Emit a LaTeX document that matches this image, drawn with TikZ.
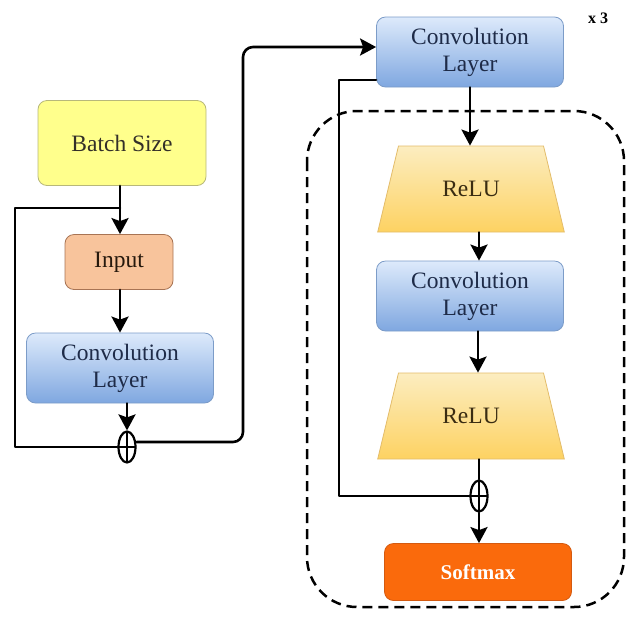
\documentclass[tikz,border=0pt]{standalone}
\usepackage{fontspec}
\setmainfont{Liberation Serif}
\usetikzlibrary{shapes.geometric,arrows.meta,calc}
\definecolor{convTop}{HTML}{DDEAFB}
\definecolor{convBot}{HTML}{7FA7E0}
\definecolor{convLine}{HTML}{7C9CC8}
\definecolor{convText}{HTML}{1E2B48}
\definecolor{reluTop}{HTML}{FCEDC0}
\definecolor{reluBot}{HTML}{FDD262}
\definecolor{reluLine}{HTML}{E3BC6A}
\definecolor{reluText}{HTML}{3A2C12}
\definecolor{batchFill}{HTML}{FFFF8C}
\definecolor{batchLine}{HTML}{B8B87A}
\definecolor{inFill}{HTML}{F8C49C}
\definecolor{inLine}{HTML}{A87454}
\definecolor{smFill}{HTML}{FA6A0C}
\definecolor{smLine}{HTML}{D45A10}
\tikzset{
  txt/.style={font=\fontsize{23.5}{27}\selectfont, align=center},
  box/.style={txt, rectangle, rounded corners=9pt, draw, line width=0.8pt},
  convbox/.style={box, draw=convLine, top color=convTop, bottom color=convBot, text=convText, minimum width=187, minimum height=70},
  relubox/.style={txt, trapezium, trapezium stretches=true, trapezium angle=67.6, draw=reluLine, line width=0.8pt, top color=reluTop, bottom color=reluBot, text=reluText, minimum width=187, minimum height=86},
  plusnode/.style={ellipse, draw, line width=2.2pt, minimum width=17, minimum height=31, inner sep=0pt,
    path picture={\draw[line width=1.8pt] (path picture bounding box.north) -- (path picture bounding box.south)
      (path picture bounding box.west) -- (path picture bounding box.east);}},
  conn/.style={line width=2.6pt, line cap=round, line join=round},
  arr/.style={conn, -{Stealth[length=16pt, width=17pt, inset=3pt]}},
}
\begin{document}
\begin{tikzpicture}[x=1pt,y=-1pt]
\useasboundingbox (0,0) rectangle (629,625);
% left column
\node[box, draw=batchLine, fill=batchFill, text=black!85!olive, minimum width=168, minimum height=85] (batch) at (122,143) {Batch Size};
\node[box, draw=inLine, fill=inFill, text=black!80!brown, minimum width=108, minimum height=55] (input) at (119,262) {Input};
\node[convbox] (convL) at (120,368) {Convolution\\Layer};
\node[plusnode] (pL) at (127,447) {};
% right column
\node[convbox] (convA) at (470,52) {Convolution\\Layer};
\node[relubox] (relu1) at (471,189) {ReLU};
\node[convbox] (convB) at (470,296) {Convolution\\Layer};
\node[relubox] (relu2) at (471,416) {ReLU};
\node[plusnode] (pR) at (479,496) {};
\node[box, draw=smLine, fill=smFill, text=white, font=\fontsize{21}{25}\selectfont\bfseries, minimum width=187, minimum height=57] (soft) at (478,572) {Softmax};
\node[font=\fontsize{16}{18}\selectfont\bfseries] (rep) at (598,18) {x 3};
% dashed frame
\draw[line width=2.5pt, dash pattern=on 10pt off 6pt, rounded corners=50pt] (307,111) rectangle (624,607);
% left connectors
\coordinate (jL) at (120,208);
\draw[arr] (batch.south -| jL) -- (input.north -| jL);
\draw[arr] (input.south -| jL) -- (convL.north -| jL);
\draw[conn] (jL) -| (pL.west -| 15,0) -- (pL.west);
\draw[arr] (convL.south -| pL) -- (pL.north);
\draw[arr, rounded corners=10pt] (pL.east |- 0,442) -| (243,47) -- (convA.west |- 0,47);
% right connectors
\draw[arr] (convA.south) -- (relu1.north -| convA.south);
\draw[arr] (relu1.south -| 479,0) -- (convB.north -| 479,0);
\draw[arr] (convB.south -| 478,0) -- (relu2.north -| 478,0);
\draw[conn] (relu2.south -| pR) -- (pR.north);
\draw[arr] (pR.south) -- (soft.north -| pR);
\draw[conn] (convA.west |- 0,80) -| (pR.west -| 339,0) -- (pR.west);
\end{tikzpicture}
\end{document}
